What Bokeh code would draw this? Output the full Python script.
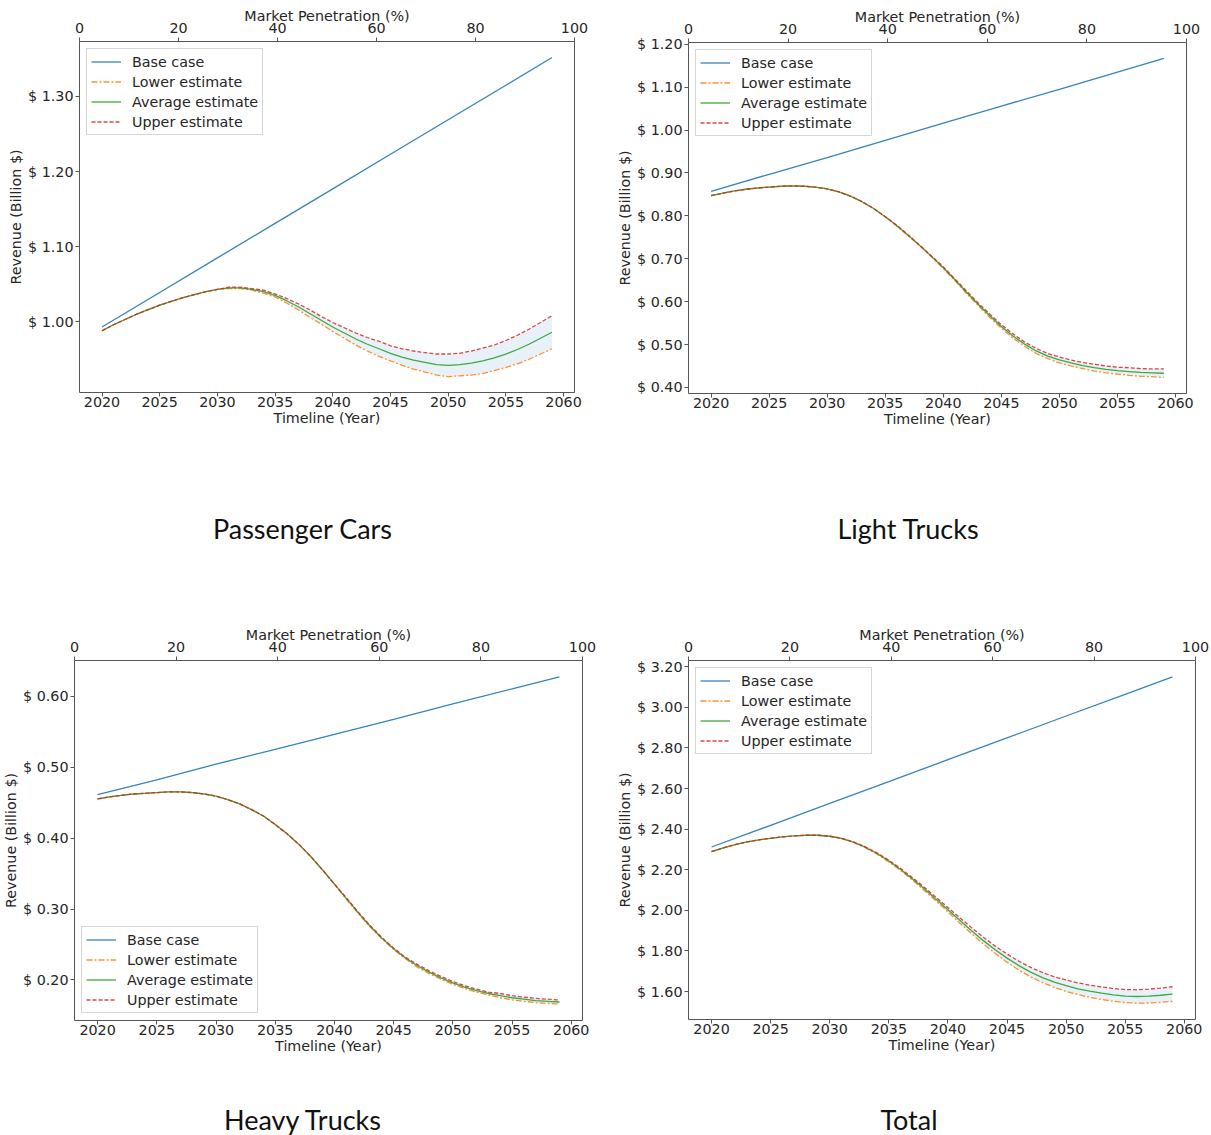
from bokeh.plotting import figure
from bokeh.models import (Range1d, LinearAxis, FixedTicker, PrintfTickFormatter,
                          Legend, LegendItem, Div)
from bokeh.layouts import column, row
from bokeh.embed import file_html
from bokeh.resources import INLINE

# ---- shared axes data ----
years = list(range(2020, 2060))
base_years = [2020, 2025, 2030, 2035, 2040, 2045, 2050, 2055, 2059]
year_ticks = [2020, 2025, 2030, 2035, 2040, 2045, 2050, 2055, 2060]
pen_ticks = [0, 20, 40, 60, 80, 100]

# ---- Passenger Cars (billion $) ----
pc_base = [0.993, 1.039, 1.085, 1.131, 1.177, 1.223, 1.269, 1.315, 1.352]
pc_avg = [0.988, 0.996, 1.003, 1.010, 1.016, 1.022, 1.027, 1.032, 1.036, 1.040,
          1.043, 1.045, 1.045, 1.043, 1.040, 1.035, 1.028, 1.020, 1.011, 1.002,
          0.993, 0.985, 0.977, 0.970, 0.964, 0.958, 0.953, 0.949, 0.946, 0.943,
          0.942, 0.943, 0.945, 0.948, 0.952, 0.957, 0.963, 0.970, 0.978, 0.986]
pc_upper = [0.988, 0.996, 1.003, 1.010, 1.016, 1.022, 1.027, 1.032, 1.036, 1.040,
            1.043, 1.046, 1.046, 1.044, 1.042, 1.037, 1.031, 1.024, 1.016, 1.007,
            0.999, 0.992, 0.985, 0.979, 0.974, 0.968, 0.964, 0.961, 0.959, 0.957,
            0.957, 0.958, 0.961, 0.965, 0.969, 0.975, 0.982, 0.990, 0.999, 1.008]
pc_lower = [0.988, 0.996, 1.003, 1.010, 1.016, 1.022, 1.027, 1.032, 1.036, 1.040,
            1.043, 1.044, 1.044, 1.042, 1.038, 1.033, 1.025, 1.016, 1.006, 0.997,
            0.987, 0.978, 0.969, 0.961, 0.954, 0.948, 0.942, 0.937, 0.933, 0.929,
            0.927, 0.928, 0.929, 0.931, 0.935, 0.939, 0.944, 0.950, 0.957, 0.964]
pc_ticks = [1.00, 1.10, 1.20, 1.30]

# ---- Light Trucks ----
lt_base = [0.857, 0.897, 0.936, 0.976, 1.016, 1.056, 1.095, 1.135, 1.167]
lt_avg = [0.847, 0.853, 0.858, 0.862, 0.865, 0.867, 0.869, 0.870, 0.869, 0.867,
          0.863, 0.856, 0.846, 0.833, 0.817, 0.798, 0.777, 0.754, 0.730, 0.705,
          0.679, 0.651, 0.622, 0.594, 0.567, 0.542, 0.520, 0.501, 0.485, 0.473,
          0.464, 0.457, 0.451, 0.446, 0.442, 0.439, 0.437, 0.435, 0.434, 0.433]
lt_upper = [0.847, 0.853, 0.858, 0.862, 0.865, 0.867, 0.869, 0.870, 0.869, 0.867,
            0.863, 0.856, 0.846, 0.833, 0.817, 0.798, 0.778, 0.755, 0.731, 0.706,
            0.681, 0.653, 0.625, 0.597, 0.571, 0.546, 0.525, 0.506, 0.491, 0.479,
            0.471, 0.464, 0.458, 0.454, 0.450, 0.447, 0.446, 0.444, 0.443, 0.443]
lt_lower = [0.847, 0.853, 0.858, 0.862, 0.865, 0.867, 0.869, 0.870, 0.869, 0.867,
            0.863, 0.856, 0.846, 0.833, 0.817, 0.798, 0.776, 0.753, 0.729, 0.704,
            0.677, 0.649, 0.619, 0.591, 0.563, 0.538, 0.515, 0.496, 0.479, 0.467,
            0.457, 0.450, 0.444, 0.438, 0.434, 0.431, 0.428, 0.426, 0.425, 0.423]
lt_ticks = [0.40, 0.50, 0.60, 0.70, 0.80, 0.90, 1.00, 1.10, 1.20]

# ---- Heavy Trucks ----
ht_base = [0.461, 0.482, 0.504, 0.525, 0.546, 0.567, 0.589, 0.610, 0.627]
ht_avg = [0.455, 0.458, 0.460, 0.462, 0.463, 0.464, 0.465, 0.465, 0.464, 0.462,
          0.459, 0.454, 0.448, 0.440, 0.431, 0.419, 0.406, 0.391, 0.374, 0.355,
          0.335, 0.315, 0.295, 0.276, 0.259, 0.244, 0.231, 0.220, 0.211, 0.203,
          0.196, 0.190, 0.185, 0.181, 0.178, 0.175, 0.173, 0.171, 0.170, 0.169]
ht_upper = [0.455, 0.458, 0.460, 0.462, 0.463, 0.464, 0.465, 0.465, 0.464, 0.462,
            0.459, 0.454, 0.448, 0.440, 0.431, 0.419, 0.406, 0.391, 0.374, 0.355,
            0.335, 0.316, 0.296, 0.277, 0.260, 0.245, 0.232, 0.222, 0.213, 0.205,
            0.198, 0.192, 0.187, 0.183, 0.181, 0.178, 0.176, 0.174, 0.173, 0.172]
ht_lower = [0.455, 0.458, 0.460, 0.462, 0.463, 0.464, 0.465, 0.465, 0.464, 0.462,
            0.459, 0.454, 0.448, 0.440, 0.431, 0.419, 0.406, 0.391, 0.374, 0.355,
            0.335, 0.314, 0.294, 0.275, 0.258, 0.243, 0.230, 0.218, 0.209, 0.201,
            0.194, 0.188, 0.183, 0.179, 0.175, 0.172, 0.170, 0.168, 0.167, 0.166]
ht_ticks = [0.20, 0.30, 0.40, 0.50, 0.60]

# ---- Total ----
tot_base = [2.312, 2.419, 2.527, 2.634, 2.742, 2.849, 2.957, 3.064, 3.150]
tot_avg = [2.289, 2.308, 2.324, 2.337, 2.347, 2.355, 2.362, 2.367, 2.370, 2.370,
           2.365, 2.354, 2.336, 2.311, 2.280, 2.243, 2.201, 2.155, 2.106, 2.055,
           2.003, 1.951, 1.900, 1.851, 1.806, 1.765, 1.728, 1.696, 1.669, 1.647,
           1.629, 1.614, 1.602, 1.592, 1.584, 1.578, 1.576, 1.578, 1.582, 1.588]
tot_upper = [2.289, 2.308, 2.324, 2.337, 2.347, 2.355, 2.362, 2.367, 2.370, 2.370,
             2.365, 2.355, 2.337, 2.313, 2.283, 2.247, 2.206, 2.161, 2.114, 2.064,
             2.014, 1.964, 1.915, 1.868, 1.824, 1.785, 1.750, 1.719, 1.694, 1.673,
             1.657, 1.643, 1.632, 1.623, 1.615, 1.610, 1.609, 1.612, 1.617, 1.624]
tot_lower = [2.289, 2.308, 2.324, 2.337, 2.347, 2.355, 2.362, 2.367, 2.370, 2.370,
             2.365, 2.353, 2.335, 2.309, 2.277, 2.239, 2.196, 2.149, 2.098, 2.046,
             1.992, 1.938, 1.885, 1.834, 1.788, 1.745, 1.706, 1.673, 1.644, 1.621,
             1.601, 1.585, 1.572, 1.561, 1.553, 1.546, 1.543, 1.544, 1.547, 1.552]
tot_ticks = [1.60, 1.80, 2.00, 2.20, 2.40, 2.60, 2.80, 3.00, 3.20]

series_labels = ["Base case", "Lower estimate", "Average estimate", "Upper estimate"]
C_BLUE, C_ORANGE, C_GREEN, C_RED = "#1f77b4", "#ff7f0e", "#2ca02c", "#d62728"

FONT = "DejaVu Sans"
FS = "14.3px"
TXT = "#262626"
FRAME = "#555555"


def style_axis(ax, tick_standoff, label_standoff):
    ax.axis_line_color = None
    ax.major_tick_line_color = FRAME
    ax.major_tick_out = 4
    ax.major_tick_in = 0
    ax.minor_tick_line_color = None
    ax.major_label_text_font = FONT
    ax.major_label_text_font_size = FS
    ax.major_label_text_color = TXT
    ax.major_label_standoff = tick_standoff
    ax.axis_label_text_font = FONT
    ax.axis_label_text_font_size = FS
    ax.axis_label_text_font_style = "normal"
    ax.axis_label_text_color = TXT
    ax.axis_label_standoff = label_standoff


def make_panel(base, lower, avg, upper, yticks, legend_loc,
               fw, fh, left, right, top, bottom):
    lo = min(lower + avg + upper + base)
    hi = max(lower + avg + upper + base)
    span = hi - lo
    xspan = years[-1] - years[0]
    p = figure(frame_width=fw, frame_height=fh,
               min_border_left=left, min_border_right=right,
               min_border_top=top, min_border_bottom=bottom,
               x_range=Range1d(years[0] - 0.05 * xspan, years[-1] + 0.05 * xspan),
               y_range=Range1d(lo - 0.05 * span, hi + 0.05 * span),
               title=None, tools="", toolbar_location=None,
               output_backend="svg")
    p.grid.visible = False
    p.outline_line_color = FRAME
    p.outline_line_width = 1
    p.background_fill_color = "white"
    p.border_fill_color = "white"

    bottom_ax = p.below[0]
    bottom_ax.ticker = FixedTicker(ticks=year_ticks)
    bottom_ax.axis_label = "Timeline (Year)"
    style_axis(bottom_ax, 0, 0)

    left_ax = p.left[0]
    left_ax.ticker = FixedTicker(ticks=yticks)
    left_ax.formatter = PrintfTickFormatter(format="$ %.2f")
    left_ax.axis_label = "Revenue (Billion $)"
    style_axis(left_ax, 2, 1)

    p.extra_x_ranges = {"pen": Range1d(0, 100)}
    top_ax = LinearAxis(x_range_name="pen", axis_label="Market Penetration (%)",
                        ticker=FixedTicker(ticks=pen_ticks))
    style_axis(top_ax, 5, -4)
    p.add_layout(top_ax, "above")

    p.varea(x=years, y1=lower, y2=upper, fill_color=C_BLUE, fill_alpha=0.1)
    r_base = p.line(base_years, base, line_color=C_BLUE, line_width=1.3, line_alpha=0.9)
    r_low = p.line(years, lower, line_color=C_ORANGE, line_width=1.3, line_alpha=0.85,
                   line_dash="6 2 2 2")
    r_avg = p.line(years, avg, line_color=C_GREEN, line_width=1.3, line_alpha=0.9)
    r_up = p.line(years, upper, line_color=C_RED, line_width=1.3, line_alpha=0.85,
                  line_dash="4 2")

    legend = Legend(items=[LegendItem(label=lab, renderers=[r])
                           for lab, r in zip(series_labels, [r_base, r_low, r_avg, r_up])],
                    location=legend_loc)
    legend.label_text_font = FONT
    legend.label_text_font_size = FS
    legend.label_text_color = TXT
    legend.glyph_width = 30
    legend.glyph_height = 17
    legend.label_height = 17
    legend.label_standoff = 11
    legend.spacing = 3
    legend.padding = 4
    legend.margin = 7
    legend.border_line_color = "#cccccc"
    legend.border_line_alpha = 0.8
    legend.background_fill_color = "white"
    legend.background_fill_alpha = 0.8
    p.add_layout(legend)
    return p


def caption(text, width, height, pad_top):
    return Div(text=f'<div style="width:{width}px;text-align:center;'
                    f'font-family:Lato;font-size:27px;color:#111;'
                    f'line-height:32px;padding-top:{pad_top}px;">{text}</div>',
               width=width, height=height, margin=0)


p1 = make_panel(pc_base, pc_lower, pc_avg, pc_upper, pc_ticks, "top_left",
                495, 351, 79, 31, 41, 48)
p2 = make_panel(lt_base, lt_lower, lt_avg, lt_upper, lt_ticks, "top_left",
                498, 351, 83, 25, 42, 47)
p3 = make_panel(ht_base, ht_lower, ht_avg, ht_upper, ht_ticks, "bottom_left",
                508, 360, 73, 24, 40, 45)
p4 = make_panel(tot_base, tot_lower, tot_avg, tot_upper, tot_ticks, "top_left",
                507, 359, 82, 17, 40, 46)

layout = column(
    row(column(p1, caption("Passenger Cars", 605, 180, 73)),
        column(p2, caption("Light Trucks", 606, 180, 73))),
    row(column(p3, caption("Heavy Trucks", 605, 70, 39)),
        column(p4, caption("Total", 606, 70, 39))),
)

open("out.html", "w").write(file_html(layout, INLINE))
